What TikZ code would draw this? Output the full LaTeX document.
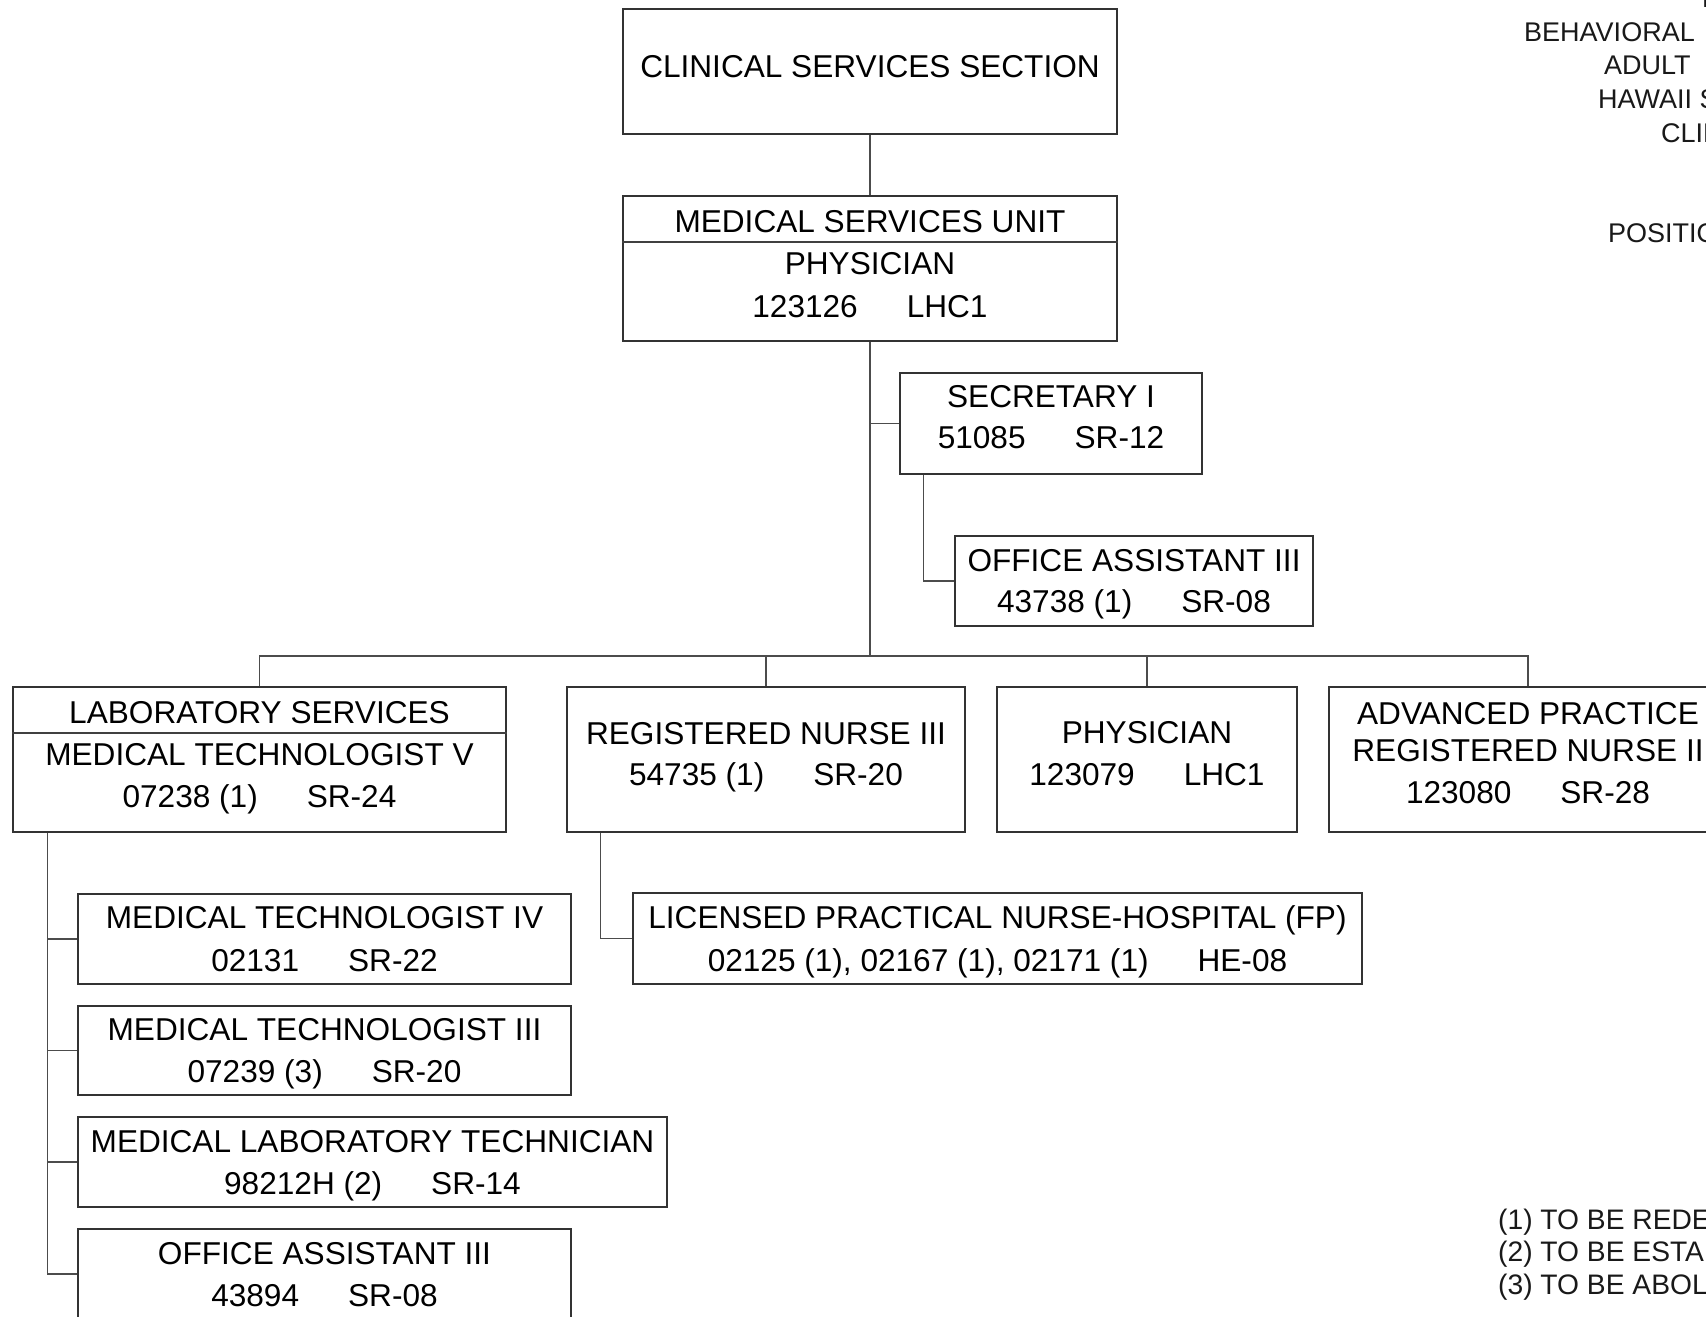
\documentclass[tikz,border=0pt]{standalone}
\usepackage{fontspec}
\setmainfont{Liberation Sans}
\newcommand{\tgap}{\hspace{49pt}}
\tikzset{
  box/.style={draw=black!80, line width=1.5pt, rectangle, inner sep=0pt, fill=white},
  conn/.style={draw=black!70, line width=1.2pt},
  divl/.style={draw=black!75, line width=1.2pt},
  t/.style={anchor=base, inner sep=0pt, text=black, font=\fontsize{31.6}{37}\selectfont},
  hd/.style={anchor=base west, inner sep=0pt, text=black!90, font=\fontsize{27}{32}\selectfont},
  lg/.style={anchor=base west, inner sep=0pt, text=black!90, font=\fontsize{28.2}{33}\selectfont},
}
\begin{document}
\begin{tikzpicture}[x=1pt,y=-1pt]
\useasboundingbox (0,0) rectangle (1706,1317);
\clip (0,0) rectangle (1706,1317);
\fill[white] (0,0) rectangle (1706,1317);

% boxes
\node[box, minimum width=494pt, minimum height=125pt] (css) at (870,71.5) {};
\node[box, minimum width=494pt, minimum height=145pt] (msu) at (870,268.5) {};
\node[box, minimum width=302pt, minimum height=101pt] (sec) at (1051,423.5) {};
\node[box, minimum width=358pt, minimum height=90pt] (oa1) at (1134,581) {};
\node[box, minimum width=493pt, minimum height=145pt] (lab) at (259.5,759.5) {};
\node[box, minimum width=398pt, minimum height=145pt] (rn3) at (766,759.5) {};
\node[box, minimum width=300pt, minimum height=145pt] (phy) at (1147,759.5) {};
\node[box, minimum width=398pt, minimum height=145pt] (aprn) at (1528,759.5) {};
\node[box, minimum width=729pt, minimum height=91pt] (lpn) at (997.5,938.5) {};
\node[box, minimum width=493pt, minimum height=90pt] (mt4) at (324.5,939) {};
\node[box, minimum width=493pt, minimum height=89pt] (mt3) at (324.5,1050.5) {};
\node[box, minimum width=589pt, minimum height=90pt] (mlt) at (372.5,1162) {};
\node[box, minimum width=493pt, minimum height=90pt] (oa2) at (324.5,1274) {};

% dividers
\coordinate (d1) at (0,242);
\coordinate (d2) at (0,733);
\draw[divl] (msu.west |- d1) -- (msu.east |- d1);
\draw[divl] (lab.west |- d2) -- (lab.east |- d2);

% connectors
\coordinate (bus) at (870,656);
\draw[conn] (css.south) -- (msu.north);
\draw[conn] (msu.south) -- (bus);
\draw[conn] (msu.south) |- (sec.west);
\draw[conn] ([xshift=24pt]sec.south west) |- (oa1.west);
\draw[conn] (lab.north) |- (bus) -| (aprn.north);
\draw[conn] (rn3.north) -- (rn3.north |- bus);
\draw[conn] (phy.north) -- (phy.north |- bus);
\draw[conn] ([xshift=34pt]rn3.south west) |- (lpn.west);
\draw[conn] ([xshift=35pt]lab.south west) |- (mt4.west);
\draw[conn] ([xshift=35pt]lab.south west) |- (mt3.west);
\draw[conn] ([xshift=35pt]lab.south west) |- (mlt.west);
\draw[conn] ([xshift=35pt]lab.south west) |- (oa2.west);

% texts (baseline = cap centre + 11)
\node[t] (tcss) at (870,77) {CLINICAL SERVICES SECTION};
\node[t] (tmsu1) at (870,232) {MEDICAL SERVICES UNIT};
\node[t] (tmsu2) at (870,274) {PHYSICIAN};
\node[t] (tmsu3) at (870,317) {123126\tgap LHC1};
\node[t] (tsec1) at (1051,407) {SECRETARY I};
\node[t] (tsec2) at (1051,448) {51085\tgap SR-12};
\node[t] (toa11) at (1134,571) {OFFICE ASSISTANT III};
\node[t] (toa12) at (1134,612) {43738 (1)\tgap SR-08};
\node[t] (tlab1) at (259.5,723) {LABORATORY SERVICES};
\node[t] (tlab2) at (259.5,765) {MEDICAL TECHNOLOGIST V};
\node[t] (tlab3) at (259.5,807) {07238 (1)\tgap SR-24};
\node[t] (trn31) at (766,744) {REGISTERED NURSE III};
\node[t] (trn32) at (766,785) {54735 (1)\tgap SR-20};
\node[t] (tphy1) at (1147,743) {PHYSICIAN};
\node[t] (tphy2) at (1147,785) {123079\tgap LHC1};
\node[t] (tap1) at (1528,724) {ADVANCED PRACTICE};
\node[t] (tap2) at (1528,761) {REGISTERED NURSE II};
\node[t] (tap3) at (1528,803) {123080\tgap SR-28};
\node[t] (tlpn1) at (997.5,928) {LICENSED PRACTICAL NURSE-HOSPITAL (FP)};
\node[t] (tlpn2) at (997.5,971) {02125 (1), 02167 (1), 02171 (1)\tgap HE-08};
\node[t] (tmt41) at (324.5,928) {MEDICAL TECHNOLOGIST IV};
\node[t] (tmt42) at (324.5,971) {02131\tgap SR-22};
\node[t] (tmt31) at (324.5,1040) {MEDICAL TECHNOLOGIST III};
\node[t] (tmt32) at (324.5,1082) {07239 (3)\tgap SR-20};
\node[t] (tmlt1) at (372.5,1152) {MEDICAL LABORATORY TECHNICIAN};
\node[t] (tmlt2) at (372.5,1194) {98212H (2)\tgap SR-14};
\node[t] (toa21) at (324.5,1264) {OFFICE ASSISTANT III};
\node[t] (toa22) at (324.5,1306) {43894\tgap SR-08};

% header (cropped at right edge)
\node[hd] (h0) at (1702,8) {D};
\node[hd] (h1) at (1524,41.5) {BEHAVIORAL};
\node[hd] (h2) at (1604,74.5) {ADULT};
\node[hd] (h3) at (1598,108) {HAWAII STATE};
\node[hd] (h4) at (1661,142) {CLINICAL};
\node[hd] (h5) at (1608,242) {POSITION};

% legend (cropped at right edge)
\node[lg] (l1) at (1498,1229) {(1) TO BE REDESCRIBED};
\node[lg] (l2) at (1498,1261.5) {(2) TO BE ESTABLISHED};
\node[lg] (l3) at (1498,1294) {(3) TO BE ABOLISHED};
\end{tikzpicture}
\end{document}
